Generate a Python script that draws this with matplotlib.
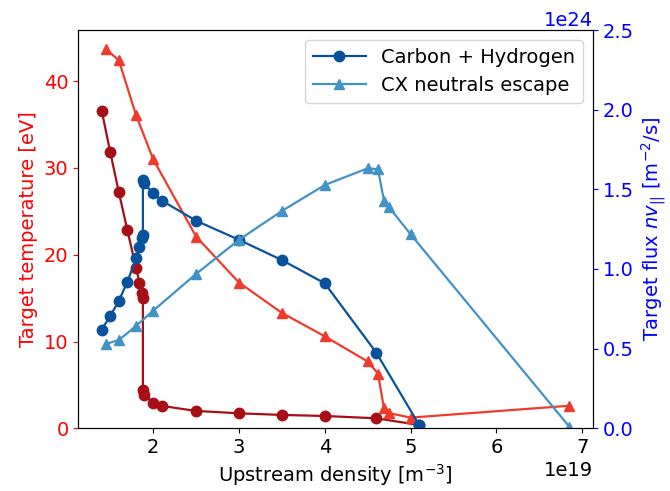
import matplotlib
matplotlib.use("Agg")
import matplotlib.pyplot as plt

plt.rcParams["font.size"] = 14

# Carbon + Hydrogen density scan
ch_density = [1.40, 1.50, 1.60, 1.70, 1.80, 1.84, 1.87, 1.88, 1.88, 1.89,
              2.00, 2.10, 2.50, 3.00, 3.50, 4.00, 4.60, 5.10]
ch_temperature = [36.6, 31.8, 27.2, 22.8, 18.5, 16.8, 15.6, 15.0, 4.4, 3.85,
                  2.96, 2.58, 2.0, 1.73, 1.54, 1.42, 1.15, 0.38]
ch_flux = [0.62, 0.705, 0.80, 0.92, 1.067, 1.136, 1.193, 1.213, 1.559, 1.538,
           1.475, 1.429, 1.303, 1.183, 1.056, 0.910, 0.475, 0.021]

# CX neutrals escape density scan
cx_density = [1.45, 1.60, 1.80, 2.00, 2.50, 3.00, 3.50, 4.00, 4.50, 4.62,
              4.69, 4.75, 5.00, 6.85]
cx_temperature = [43.7, 42.4, 36.1, 31.0, 22.1, 16.8, 13.3, 10.6, 7.7, 6.3,
                  2.3, 1.75, 1.23, 2.6]
cx_flux = [0.53, 0.554, 0.642, 0.738, 0.969, 1.183, 1.364, 1.527, 1.632, 1.626,
           1.429, 1.387, 1.218, 0.01]

density_scale = 1e19
flux_scale = 1e24

fig, ax = plt.subplots(figsize=(6.7, 4.91), dpi=100)
fig.subplots_adjust(left=0.1169, right=0.8846, bottom=0.1277, top=0.9389)

ax.plot([d * density_scale for d in ch_density], ch_temperature, "-o",
        color="#a50f15", lw=1.6, ms=7.5)
ax.plot([d * density_scale for d in cx_density], cx_temperature, "-^",
        color="#ef3b2c", lw=1.6, ms=7.5)
ax.set_ylim(0, 45.9)
ax.set_xlabel("Upstream density [m$^{-3}$]")
ax.set_ylabel("Target temperature [eV]", color="red")
ax.tick_params(axis="y", colors="red")
ax.spines["left"].set_color("black")

ax2 = ax.twinx()
ax2.plot([d * density_scale for d in ch_density], [f * flux_scale for f in ch_flux],
         "-o", color="#08519c", lw=1.6, ms=7.5, label="Carbon + Hydrogen")
ax2.plot([d * density_scale for d in cx_density], [f * flux_scale for f in cx_flux],
         "-^", color="#4292c6", lw=1.6, ms=7.5, label="CX neutrals escape")
ax2.set_ylim(0, 2.5e24)
ax2.set_ylabel("Target flux $nv_{||}$ [m$^{-2}$/s]", color="blue")
ax2.tick_params(axis="y", colors="blue")
ax2.yaxis.get_offset_text().set_color("blue")
ax2.spines["right"].set_color("black")
ax2.spines["left"].set_color("black")
ax2.legend(loc="upper right", handlelength=2.7)

fig.savefig("out.png", dpi=100)
